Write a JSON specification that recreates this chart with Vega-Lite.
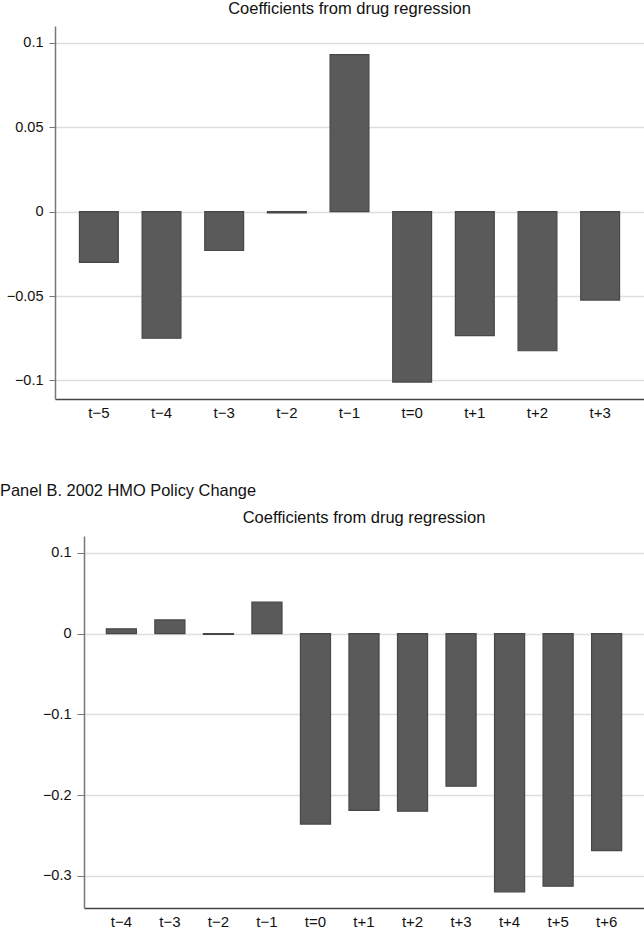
{
  "$schema": "https://vega.github.io/schema/vega-lite/v6.json",
  "padding": {"left": 0, "top": 0, "right": 0, "bottom": 0},
  "background": "white",
  "config": {
    "view": {"stroke": null},
    "font": "Liberation Sans",
    "title": {"font": "Liberation Sans", "fontWeight": "normal", "color": "#111111"},
    "axis": {"labelFont": "Liberation Sans", "labelColor": "#111111", "title": null}
  },
  "concat": [
    {
      "width": 589,
      "height": 373,
      "title": {"text": "Coefficients from drug regression", "fontSize": 16.5, "anchor": "middle", "offset": 9},
      "data": {"values": [
        {"period": "t−5", "coef": -0.030},
        {"period": "t−4", "coef": -0.075},
        {"period": "t−3", "coef": -0.023},
        {"period": "t−2", "coef": -0.0008},
        {"period": "t−1", "coef": 0.093},
        {"period": "t=0", "coef": -0.101},
        {"period": "t+1", "coef": -0.0734},
        {"period": "t+2", "coef": -0.0824},
        {"period": "t+3", "coef": -0.0524}
      ]},
      "mark": {"type": "bar", "fill": "#5a5a5a", "stroke": "#474747", "strokeWidth": 1.2},
      "encoding": {
        "x": {"field": "period", "type": "nominal", "sort": null,
          "scale": {"paddingInner": 0.38, "paddingOuter": 0.39},
          "axis": {"labelAngle": 0, "ticks": false, "labelPadding": 6, "labelFontSize": 15, "domainColor": "#444444", "domainWidth": 1.5, "grid": false}},
        "y": {"field": "coef", "type": "quantitative",
          "scale": {"domain": [-0.111, 0.110], "nice": false, "zero": false},
          "axis": {"values": [-0.1, -0.05, 0, 0.05, 0.1], "format": "~g", "labelFontSize": 14.5, "tickSize": 6, "labelPadding": 6, "tickColor": "#777777", "domainColor": "#777777", "domainWidth": 1.5, "grid": true, "gridColor": "#dedede", "gridWidth": 1.3}}
      }
    },
    {
      "title": {"text": "Panel B. 2002 HMO Policy Change", "fontSize": 16.4, "anchor": "start", "frame": "group", "offset": 10, "dx": -55},
      "concat": [
        {
          "width": 29,
          "height": 372,
          "data": {"values": [{}]},
          "mark": {"type": "text", "text": ""},
          "encoding": {}
        },
        {
          "width": 560,
          "height": 372,
          "title": {"text": "Coefficients from drug regression", "fontSize": 16.5, "anchor": "middle", "offset": 10},
          "data": {"values": [
            {"period": "t−4", "coef": 0.006},
            {"period": "t−3", "coef": 0.017},
            {"period": "t−2", "coef": -0.001},
            {"period": "t−1", "coef": 0.039},
            {"period": "t=0", "coef": -0.236},
            {"period": "t+1", "coef": -0.219},
            {"period": "t+2", "coef": -0.220},
            {"period": "t+3", "coef": -0.189},
            {"period": "t+4", "coef": -0.320},
            {"period": "t+5", "coef": -0.313},
            {"period": "t+6", "coef": -0.269}
          ]},
          "mark": {"type": "bar", "fill": "#5a5a5a", "stroke": "#474747", "strokeWidth": 1.2},
          "encoding": {
            "x": {"field": "period", "type": "nominal", "sort": null,
              "scale": {"paddingInner": 0.38, "paddingOuter": 0.46},
              "axis": {"labelAngle": 0, "ticks": false, "labelPadding": 6, "labelFontSize": 15, "domainColor": "#444444", "domainWidth": 1.5, "grid": false}},
            "y": {"field": "coef", "type": "quantitative",
              "scale": {"domain": [-0.34, 0.121], "nice": false, "zero": false},
              "axis": {"values": [-0.3, -0.2, -0.1, 0, 0.1], "format": "~g", "labelFontSize": 14.5, "tickSize": 7, "labelPadding": 6, "tickColor": "#777777", "domainColor": "#777777", "domainWidth": 1.5, "grid": true, "gridColor": "#dedede", "gridWidth": 1.3}}
          }
        }
      ],
      "columns": 2,
      "bounds": "flush",
      "spacing": 0
    }
  ],
  "columns": 1,
  "bounds": "flush",
  "spacing": 137
}
